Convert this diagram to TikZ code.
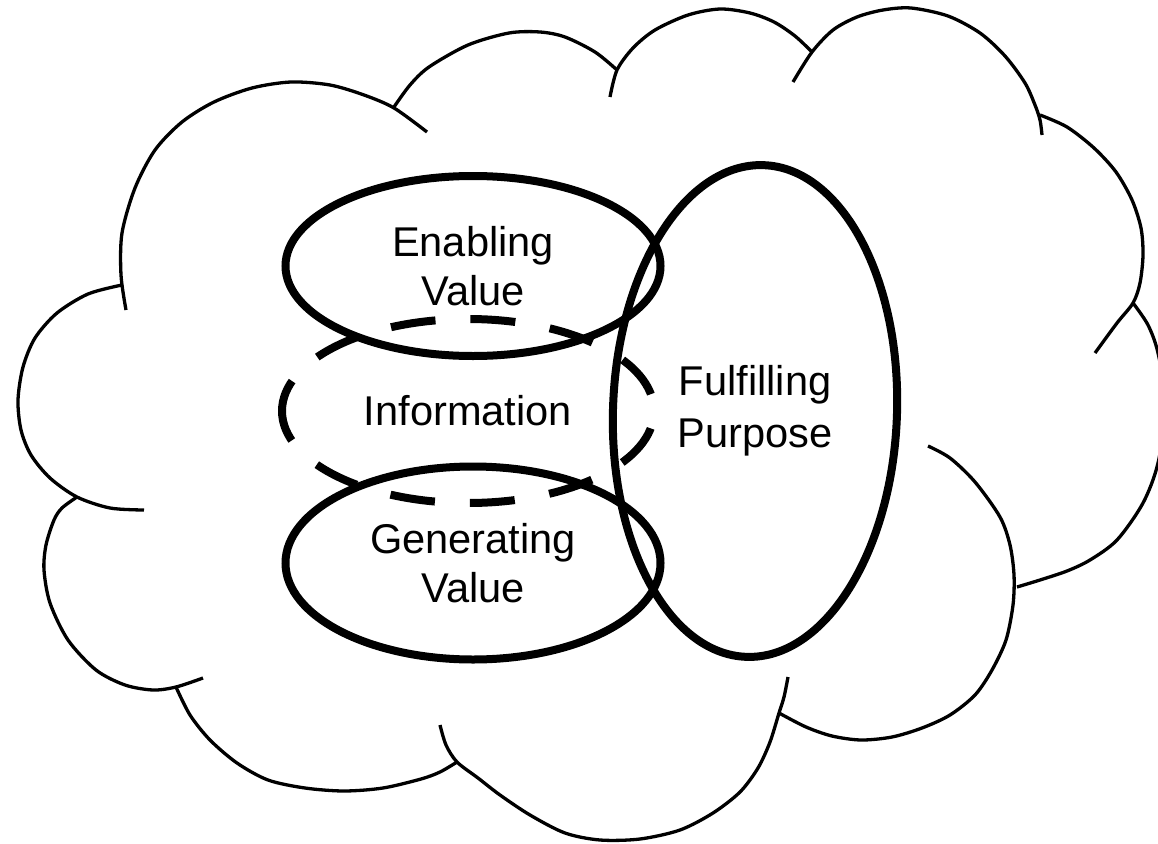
\documentclass[tikz,border=0pt]{standalone}
\usepackage{fontspec}
\setmainfont{Liberation Sans}
\usetikzlibrary{shapes.geometric}
\tikzset{cloudline/.style={line width=3.3pt}}
\tikzset{oval/.style={ellipse,draw,line width=8pt,inner sep=0pt,outer sep=0pt,align=center,font=\fontsize{41.6pt}{49pt}\selectfont}}
\tikzset{infooval/.style={ellipse,inner sep=0pt,outer sep=0pt,align=center,font=\fontsize{41.6pt}{49pt}\selectfont}}
\tikzset{dashline/.style={line width=8pt,dash pattern=on 45pt off 35pt,dash phase=13.5pt}}
\tikzset{lbl/.style={align=center,font=\fontsize{41.6pt}{52pt}\selectfont}}

\begin{document}
\begin{tikzpicture}[x=1pt,y=-1pt]
	\useasboundingbox (0,0) rectangle (1158,843);

	%% cloud outline, one lobe at a time
	\draw[cloudline] plot[smooth] coordinates {(122,285) (88,294) (57,313) (35,338) (23,367) (18,400) (21,430) (31,455) (50,478) (77,497) (110,508) (144,510)};
	\draw[cloudline] plot[smooth] coordinates {(126,310) (121,275) (122,233) (135,188) (155,150) (182,122) (214,102) (252,88) (291,82) (330,85) (364,95) (394,108) (427,132)};
	\draw[cloudline] plot[smooth] coordinates {(394,107) (410,85) (429,67) (468,45) (509,33) (540,32) (565,37) (595,52) (617,70)};
	\draw[cloudline] plot[smooth] coordinates {(610,97) (617,70) (633,48) (655,30) (688,15) (720,9) (750,13) (774,22) (795,36) (812,52)};
	\draw[cloudline] plot[smooth] coordinates {(793,82) (812,52) (833,30) (857,17) (883,10) (911,8) (948,16) (980,33) (1005,56) (1025,83) (1035,105) (1040,120) (1042,135)};
	\draw[cloudline] plot[smooth] coordinates {(1040,115) (1067,127) (1094,148) (1116,172) (1132,200) (1141,228) (1143,255) (1140,283) (1133,303) (1117,323) (1095,353)};
	\draw[cloudline] plot[smooth] coordinates {(1133,303) (1148,325) (1158,353) (1166,405) (1158,463) (1143,503) (1117,540) (1090,560) (1067,571) (1040,580) (1017,587)};
	\draw[cloudline] plot[smooth] coordinates {(928,446) (950,458) (975,482) (1000,517) (1010,545) (1014,575) (1013,605) (1006,640) (992,670) (975,695) (950,715) (922,728) (892,737) (861,740) (832,736) (806,727) (779,713)};
	\draw[cloudline] plot[smooth] coordinates {(788,677) (784,697) (779,713) (770,742) (758,768) (740,792) (713,813) (680,830) (640,839) (600,840) (565,833) (530,815) (500,795) (478,778) (457,762) (446,745) (440,725)};
	\draw[cloudline] plot[smooth] coordinates {(457,762) (440,772) (421,779) (383,788) (344,791) (305,788) (268,780) (237,763) (210,740) (190,715) (176,687)};
	\draw[cloudline] plot[smooth] coordinates {(77,497) (62,508) (54,520) (46,545) (44,570) (50,603) (68,640) (96,670) (125,685) (153,690) (176,687) (203,678)};

	% the ovals
	\node[oval,minimum width=375pt,minimum height=180pt] (enabling) at (473,266) {Enabling\\Value};
	\node[infooval,minimum width=372pt,minimum height=184pt] (information) at (468,411) {Information};
	\draw[dashline] (information.west) arc[start angle=180,end angle=540,x radius=186pt,y radius=92pt];
	\node[oval,minimum width=375pt,minimum height=193pt] (generating) at (473,563) {Generating\\Value};
	\node[oval,rotate=-2,minimum width=284pt,minimum height=492pt] (fulfilling) at (755,411) {};
	\node[lbl] (purpose) at (fulfilling.center) {Fulfilling\\Purpose};
\end{tikzpicture}
\end{document}
